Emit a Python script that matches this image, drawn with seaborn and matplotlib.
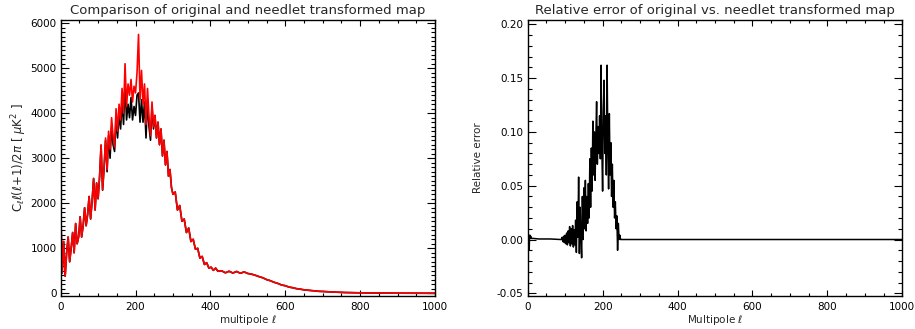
import numpy as np
import pandas as pd
import matplotlib
matplotlib.use("Agg")
import matplotlib.pyplot as plt
import seaborn as sns
from matplotlib.ticker import MultipleLocator

# ---------------- data ----------------
# original map power spectrum (red), l = 0..300 step 4
ell_lo = list(range(0, 301, 4))
orig_lo = [1950, 450, 1150, 380, 900, 1250, 700, 1000, 1350, 900,
           1550, 1100, 1250, 1700, 1250, 1500, 1900, 1500, 1750, 2150,
           1650, 2050, 2550, 1850, 2450, 2100, 2600, 3300, 2300, 2800,
           3450, 2750, 3600, 3200, 3900, 3500, 3250, 4100, 3600, 4200,
           3850, 4550, 4000, 5100, 4150, 4650, 4400, 4750, 4250, 4600,
           4450, 4900, 5750, 4300, 4950, 4200, 4650, 3750, 4550, 3900,
           3500, 4250, 3700, 3950, 3450, 3800, 3300, 3650, 3050, 3400,
           2850, 3150, 2600, 2750, 2350, 2200]
# l = 306..420 step 6
ell_mid = list(range(306, 421, 6))
orig_mid = [2250, 1850, 1950, 1600, 1650, 1350, 1450, 1150, 1200, 980,
            1000, 780, 820, 640, 680, 560, 580, 510, 560, 490]
# l = 430..1000 step 10
ell_hi = list(range(430, 1001, 10))
orig_hi = [500, 455, 490, 450, 485, 445, 475, 440, 425, 400,
           370, 345, 305, 280, 245, 220, 185, 168, 138, 124,
           103, 92, 77, 68, 57, 52, 44, 41, 35, 31,
           27, 23, 20, 17, 15, 13, 11, 9,
           8, 7, 7, 6, 5, 5, 4, 4, 3, 3,
           3, 2, 2, 2, 1, 1, 1, 1, 0, 0]

# needlet transformed map (black) where it departs from the original
ell_nd = list(range(100, 253, 4))
needlet_nd = [2100, 2590, 3280, 2290, 2780, 3400, 2700, 3500, 3000, 3700,
              3300, 3150, 3900, 3450, 4000, 3650, 4250, 3750, 4650, 3850,
              4200, 3900, 4350, 3850, 4150, 3950, 4400, 4450, 3800, 4300,
              3800, 4250, 3450, 4300, 3700, 3400, 4150, 3650, 3950]

# relative error
err_ell_a = [0, 1, 2, 3, 4, 5, 6, 7, 8, 10, 15, 30, 60, 88]
err_a = [0.002, 0.005, -0.002, 0.004, -0.010, 0.003, 0.004, 0.001, 0.003,
         0.001, 0.001, 0.0005, 0.0005, 0.0]
err_ell_b = list(range(90, 251, 2))
err_b = [0.000, 0.002, -0.002, 0.003, -0.003, 0.004, -0.004, 0.006, -0.005, 0.008,
         -0.003, 0.012, -0.006, 0.010, -0.004, 0.013, -0.007, 0.009, -0.005, 0.018,
         -0.012, 0.035, 0.002, 0.058, -0.013, 0.030, 0.005, -0.017, 0.040, 0.000,
         0.048, 0.010, 0.055, 0.008, 0.040, 0.015, 0.052, 0.020, 0.075, 0.030,
         0.085, 0.045, 0.110, 0.060, 0.100, 0.055, 0.095, 0.128, 0.070, 0.105,
         0.080, 0.115, 0.075, 0.162, 0.085, 0.045, 0.120, 0.148, 0.080, 0.115,
         0.060, 0.162, 0.090, 0.047, 0.117, 0.060, 0.090, 0.040, 0.070, 0.030,
         0.055, 0.020, 0.035, 0.010, 0.022, -0.010, 0.015, 0.000, 0.004, 0.000,
         0.000]
err_ell_c = [260, 1000]
err_c = [0.0, 0.0]

# ---------------- assemble tables ----------------
orig_df = pd.DataFrame({"ell": ell_lo + ell_mid + ell_hi,
                        "val": orig_lo + orig_mid + orig_hi})
nd_ell = ell_lo[:25] + ell_nd + ell_lo[64:] + ell_mid + ell_hi
nd_val = orig_lo[:25] + needlet_nd + orig_lo[64:] + orig_mid + orig_hi
needlet_df = pd.DataFrame({"ell": nd_ell, "val": nd_val})
err_df = pd.DataFrame({"ell": err_ell_a + err_ell_b + err_ell_c,
                       "val": err_a + err_b + err_c})

# ---------------- figure ----------------
sns.set_style("ticks")
plt.rcParams["font.family"] = ["DejaVu Sans"]
plt.rcParams["mathtext.fontset"] = "dejavusans"

fig = plt.figure(figsize=(9.15, 3.29), dpi=100)
ax1 = fig.add_axes([0.0663, 0.1003, 0.4091, 0.8389])
ax2 = fig.add_axes([0.5767, 0.1003, 0.4094, 0.8389])

sns.lineplot(data=needlet_df, x="ell", y="val", ax=ax1, color="black",
             estimator=None, sort=False, lw=1.2)
sns.lineplot(data=orig_df, x="ell", y="val", ax=ax1, color="#ff0000",
             estimator=None, sort=False, lw=1.2)
sns.lineplot(data=err_df, x="ell", y="val", ax=ax2, color="black",
             estimator=None, sort=False, lw=1.1)

ax1.set_xlim(0, 1000)
ax1.set_ylim(-60, 6070)
ax2.set_xlim(0, 1000)
ax2.set_ylim(-0.0525, 0.204)

ax1.xaxis.set_major_locator(MultipleLocator(200))
ax1.xaxis.set_minor_locator(MultipleLocator(50))
ax1.yaxis.set_major_locator(MultipleLocator(1000))
ax1.yaxis.set_minor_locator(MultipleLocator(100))
ax2.xaxis.set_major_locator(MultipleLocator(200))
ax2.xaxis.set_minor_locator(MultipleLocator(50))
ax2.yaxis.set_major_locator(MultipleLocator(0.05))
ax2.yaxis.set_minor_locator(MultipleLocator(0.01))
ax2.yaxis.set_major_formatter(matplotlib.ticker.FormatStrFormatter("%.2f"))

for ax in (ax1, ax2):
    for s in ax.spines.values():
        s.set_linewidth(1.0)
        s.set_color("black")
    ax.tick_params(axis="both", which="both", direction="in", top=True, right=True,
                   labelsize=7.5, colors="black", width=0.8)
    ax.tick_params(axis="x", which="major", length=4.5, pad=4)
    ax.tick_params(axis="x", which="minor", length=2.3)
    ax.tick_params(axis="y", which="major", length=5.5, pad=3)
    ax.tick_params(axis="y", which="minor", length=2.8)

ax1.set_title("Comparison of original and needlet transformed map", fontsize=9.5, pad=4)
ax2.set_title("Relative error of original vs. needlet transformed map", fontsize=9.5, pad=4)
ax1.set_xlabel(r"multipole $\ell$", fontsize=7.5, labelpad=1)
ax2.set_xlabel(r"Multipole $\ell$", fontsize=7.5, labelpad=1)
ax1.set_ylabel(r"C$_\ell\ell(\ell$+1)/2$\pi$ [ $\mu$K$^2$ ]", fontsize=8.5, labelpad=1)
ax2.set_ylabel("Relative error", fontsize=7.5, labelpad=10)

fig.savefig("out.png", dpi=100)
